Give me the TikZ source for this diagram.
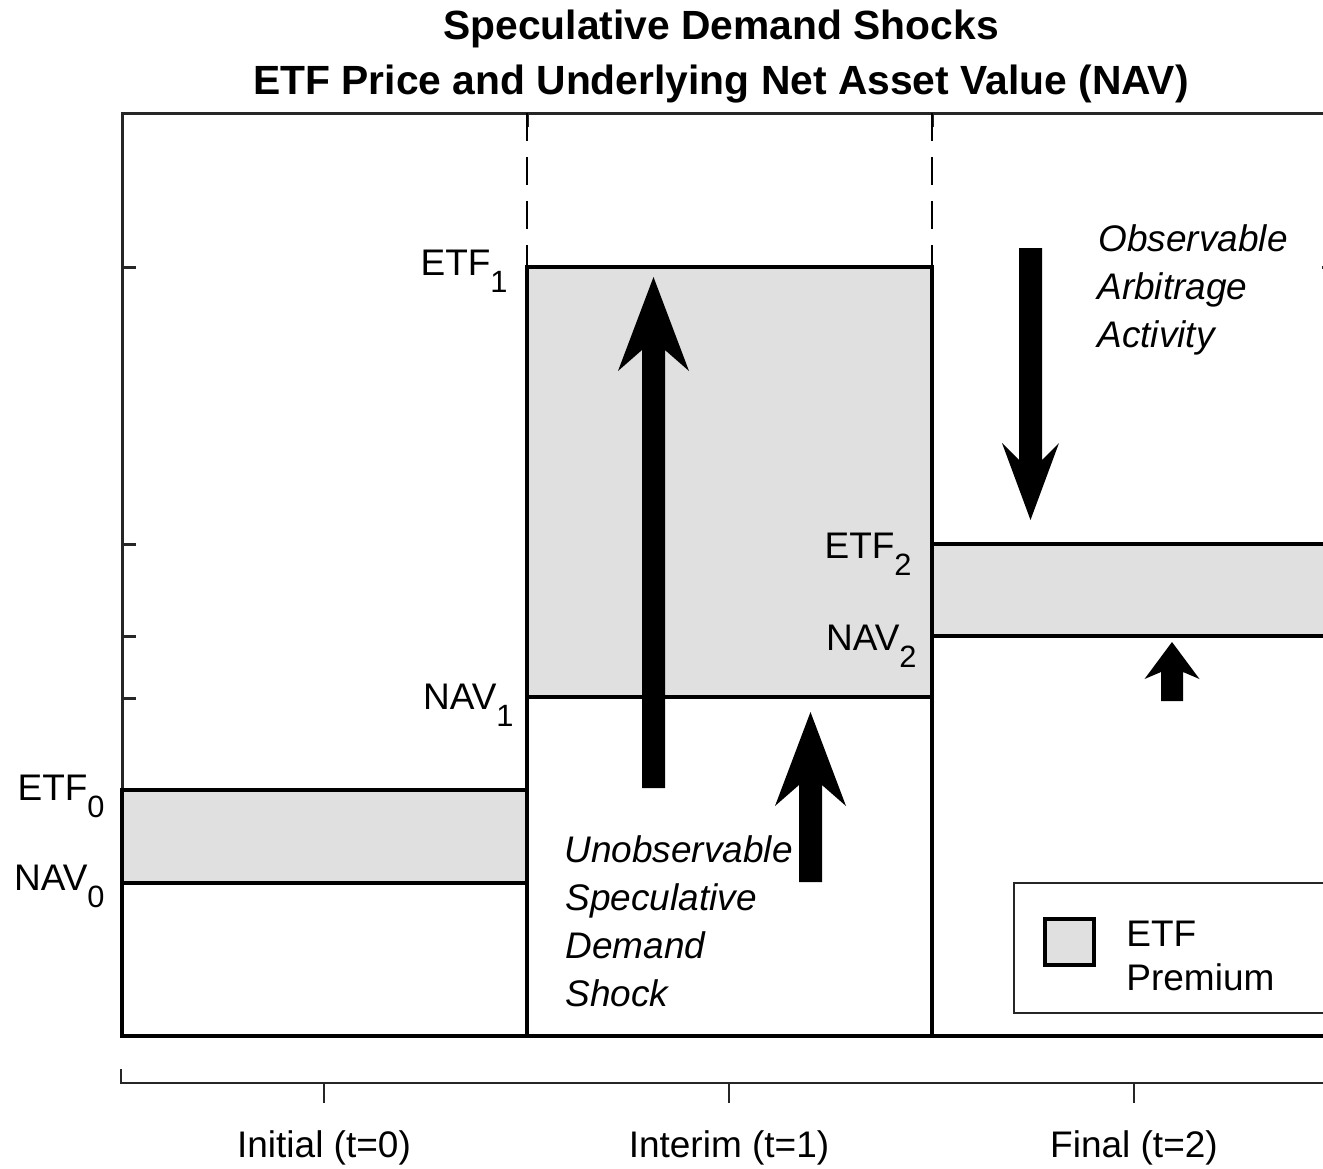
\documentclass[tikz,border=0pt]{standalone}
\usepackage{fontspec}
\setmainfont{Liberation Sans}
\usetikzlibrary{calc}
\definecolor{premgray}{HTML}{E0E0E0}
\definecolor{axgray}{HTML}{262626}
\newcommand\subx[1]{\raisebox{-8.5pt}{\fontsize{15.4}{16}\selectfont #1}}
% #1 base, #2 tip, #3 shaft half width, #4 head half width, #5 barb offset, #6 junction offset
\newcommand\fatarrow[6]{%
  \fill[black] (#2) -- ($(#2)+(#4,#5)$) -- ($(#2)+(#3,#6)$) -- ($(#1)+(#3,0)$) --
    ($(#1)+(-#3,0)$) -- ($(#2)+(-#3,#6)$) -- ($(#2)+(-#4,#5)$) -- cycle;}
\begin{document}
\begin{tikzpicture}[x=0.5pt,y=-0.5pt,
  axline/.style={draw=axgray,line width=1.5pt},
  axthin/.style={draw=axgray,line width=1pt},
  bar/.style={draw=black,line width=2pt},
  dashline/.style={draw=black,line width=0.75pt,dash pattern=on 14pt off 8pt},
  legbox/.style={draw=axgray,line width=0.75pt,fill=white},
  lbl/.style={font=\fontsize{18.5}{22}\selectfont,inner sep=0pt,text=black},
  itl/.style={font=\fontsize{18.5}{22}\selectfont\itshape,inner sep=0pt,text=black},
  ttl/.style={font=\fontsize{20.4}{24}\selectfont\bfseries,inner sep=0pt,text=black}]
\useasboundingbox (0,0) rectangle (1323,1168);
\clip (0,0) rectangle (1323,1168);
\fill[white] (0,0) rectangle (1323,1168);
% title
\node[ttl,anchor=base] (title1) at (721,39) {Speculative Demand Shocks};
\node[ttl,anchor=base] (title2) at (721,94) {ETF Price and Underlying Net Asset Value (NAV)};
% axes box
\draw[axline] (122,1036) -- (122,113) -- (1340,113);
\foreach \yy in {267,544,636,698} \draw[axline] (122,\yy) -- (136,\yy);
\foreach \xx in {527,932} \draw[axline] (\xx,113) -- (\xx,127);
\draw[axline] (1337,267) -- (1322,267);
% bars
\draw[bar,fill=white] (122,1036) rectangle (527,883);
\draw[bar,fill=premgray] (122,883) rectangle (527,790);
\draw[bar,fill=white] (527,1036) rectangle (932,697);
\draw[bar,fill=premgray] (527,697) rectangle (932,267);
\draw[bar,fill=white] (932,1036) rectangle (1345,636);
\draw[bar,fill=premgray] (932,636) rectangle (1345,544);
% dashed separators
\coordinate (d1t) at (527,113); \coordinate (d1b) at (527,267);
\coordinate (d2t) at (932,113); \coordinate (d2b) at (932,267);
\draw[dashline] (d1t) -- (d1b);
\draw[dashline] (d2t) -- (d2b);
% level labels
\node[lbl,anchor=base east] (etf0) at (105,800) {ETF\subx{0}};
\node[lbl,anchor=base east] (nav0) at (105,890) {NAV\subx{0}};
\node[lbl,anchor=base east] (etf1) at (508,275) {ETF\subx{1}};
\node[lbl,anchor=base east] (nav1) at (514,709) {NAV\subx{1}};
\node[lbl,anchor=base east] (etf2) at (912,558) {ETF\subx{2}};
\node[lbl,anchor=base east] (nav2) at (917,650) {NAV\subx{2}};
% arrows
\coordinate (a1b) at (653.5,788); \coordinate (a1t) at (653.5,277);
\coordinate (a2b) at (810.5,882); \coordinate (a2t) at (810.5,712);
\coordinate (a3b) at (1030.5,248); \coordinate (a3t) at (1030.5,520);
\coordinate (a4b) at (1172,701); \coordinate (a4t) at (1172,642);
\fatarrow{a1b}{a1t}{11.5}{35.5}{94}{73}
\fatarrow{a2b}{a2t}{11.5}{35.5}{94}{73}
\fatarrow{a3b}{a3t}{11.5}{28.5}{-77}{-60}
\fatarrow{a4b}{a4t}{11}{27.5}{37}{30}
% annotations
\node[itl,anchor=base west] (obs1) at (1098,251) {Observable};
\node[itl,anchor=base west] (obs2) at (1097,299) {Arbitrage};
\node[itl,anchor=base west] (obs3) at (1097,347) {Activity};
\node[itl,anchor=base west] (uns1) at (564,862) {Unobservable};
\node[itl,anchor=base west] (uns2) at (565,910) {Speculative};
\node[itl,anchor=base west] (uns3) at (565,958) {Demand};
\node[itl,anchor=base west] (uns4) at (565,1006) {Shock};
% legend
\draw[legbox] (1014,883) rectangle (1345,1013);
\draw[bar,fill=premgray] (1045,919) rectangle (1094,965);
\node[lbl,anchor=base west] (leg1) at (1126,946) {ETF};
\node[lbl,anchor=base west] (leg2) at (1126,990) {Premium};
% time axis
\draw[axthin] (121,1069) -- (121,1083) -- (1340,1083);
\foreach \xx in {324,729,1134} \draw[axthin] (\xx,1083) -- (\xx,1103);
\node[lbl,anchor=base] (t0) at (324,1157) {Initial (t=0)};
\node[lbl,anchor=base] (t1) at (729,1157) {Interim (t=1)};
\node[lbl,anchor=base] (t2) at (1134,1157) {Final (t=2)};
\end{tikzpicture}
\end{document}
